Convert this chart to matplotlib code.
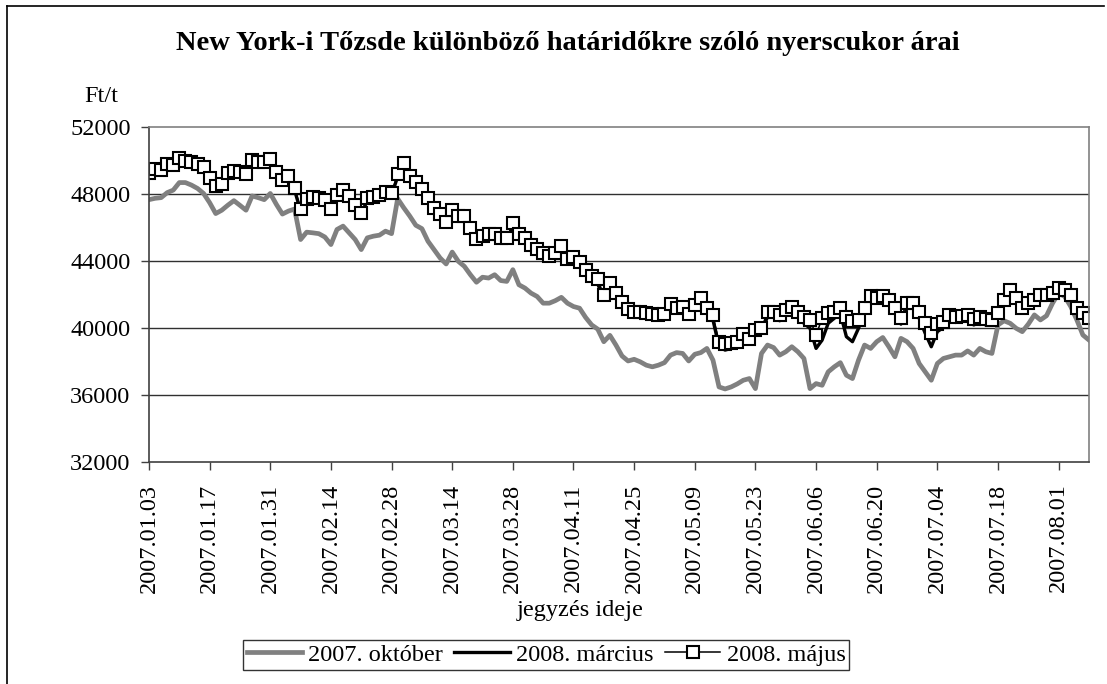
import matplotlib
matplotlib.use("Agg")
import matplotlib.pyplot as plt
from matplotlib.lines import Line2D

# tick labels (every 10th trading day)
date_labels = ["2007.01.03", "2007.01.17", "2007.01.31", "2007.02.14", "2007.02.28",
               "2007.03.14", "2007.03.28", "2007.04.11", "2007.04.25", "2007.05.09",
               "2007.05.23", "2007.06.06", "2007.06.20", "2007.07.04", "2007.07.18",
               "2007.08.01"]

# 2007. október
oktober = [
    47680, 47760, 47800, 48100, 48250, 48700, 48700, 48550, 48350, 48050,
    47500, 46850, 47050, 47350, 47620, 47340, 47050, 47900, 47800, 47680,
    48050, 47400, 46820, 47000, 47120, 45300, 45740, 45700, 45650, 45450,
    45000, 45900, 46100, 45700, 45300, 44700, 45400, 45500, 45560, 45800,
    45650, 47740, 47200, 46700, 46150, 45950, 45200, 44700, 44200, 43840,
    44550, 44000, 43700, 43200, 42750, 43050, 43000, 43200, 42850, 42800,
    43500, 42600, 42400, 42100, 41900, 41500, 41500, 41650, 41850, 41500,
    41300, 41200, 40650, 40200, 39950, 39200, 39580, 39000, 38350, 38050,
    38150, 38000, 37800, 37700, 37800, 37950, 38400, 38550, 38500, 38050,
    38450, 38550, 38800, 38100, 36500, 36380, 36500, 36680, 36900, 37000,
    36400, 38500, 39000, 38850, 38400, 38600, 38900, 38600, 38200, 36400,
    36700, 36600, 37400, 37700, 37950, 37200, 37000, 38100, 39000, 38800,
    39200, 39450, 38900, 38300, 39400, 39200, 38800, 37900, 37400, 36900,
    37900, 38200, 38300, 38400, 38400, 38650, 38400, 38800, 38600, 38500,
    40200, 40450, 40300, 40000, 39800, 40250, 40800, 40500, 40750, 41500,
    42100, 41900, 41300, 40500, 39600, 39300]

# 2008. március
marcius = [
    49150, 49350, 49300, 49650, 49600, 50000, 49850, 49800, 49650, 49500,
    48850, 48350, 48450, 49150, 49250, 49200, 49100, 49900, 49800, 49800,
    49950, 49200, 48700, 48950, 48250, 47000, 47550, 47700, 47600, 47550,
    47000, 47800, 48150, 47750, 47200, 46750, 47650, 47700, 47800, 48000,
    47950, 49050, 49700, 48950, 48600, 48150, 47650, 47050, 46650, 46200,
    46900, 46550, 46500, 45850, 45200, 45400, 45450, 45450, 45250, 45250,
    46050, 45400, 45150, 44800, 44500, 44300, 44100, 44300, 44700, 43950,
    44050, 43750, 43300, 42850, 42650, 41750, 42450, 41900, 41350, 40900,
    40700, 40650, 40600, 40550, 40500, 40600, 41150, 40950, 41000, 40550,
    41100, 41550, 40950, 40500, 38900, 38700, 38800, 38950, 39400, 39100,
    39600, 39750, 40700, 40700, 40450, 40750, 41000, 40700, 40300, 40000,
    38800, 39300, 40300, 40600, 40900, 39500, 39200, 40000, 40900, 41650,
    41500, 41650, 41400, 40900, 40250, 41200, 41250, 40600, 39700, 38900,
    39800, 40050, 40450, 40350, 40450, 40500, 40200, 40350, 40200, 40250,
    40650, 41450, 42050, 41550, 40950, 41250, 41450, 41750, 41800, 41900,
    42200, 42100, 41800, 41000, 40700, 40450]

# 2008. május
majus = [
    49280, 49500, 49450, 49800, 49750, 50150, 50000, 49950, 49800, 49650,
    49000, 48500, 48600, 49300, 49400, 49350, 49240, 50050, 49950, 49950,
    50080, 49340, 48840, 49100, 48400, 47140, 47700, 47840, 47750, 47680,
    47140, 47940, 48280, 47900, 47340, 46880, 47800, 47840, 47950, 48140,
    48080, 49200, 49880, 49100, 48740, 48300, 47800, 47200, 46800, 46340,
    47080, 46700, 46680, 46000, 45340, 45540, 45620, 45600, 45420, 45400,
    46280, 45600, 45380, 45000, 44720, 44500, 44320, 44500, 44920, 44120,
    44280, 43980, 43500, 43100, 42920, 41980, 42720, 42120, 41600, 41180,
    40980, 40980, 40900, 40840, 40780, 40850, 41440, 41200, 41280, 40840,
    41380, 41780, 41200, 40780, 39180, 39080, 39150, 39200, 39680, 39380,
    39880, 40000, 41000, 41000, 40800, 41100, 41300, 41000, 40700, 40500,
    39600, 40600, 40900, 41000, 41200, 40700, 40450, 40500, 41200, 41900,
    41800, 41900, 41700, 41200, 40600, 41540, 41540, 41000, 40300, 39700,
    40260, 40400, 40800, 40700, 40750, 40800, 40540, 40660, 40550, 40500,
    40900, 41700, 42300, 41800, 41200, 41500, 41700, 42000, 42000, 42100,
    42400, 42300, 42000, 41200, 40900, 40600]

y_ticks = [32000, 36000, 40000, 44000, 48000, 52000]

plt.rcParams['font.family'] = ['Liberation Serif', 'DejaVu Serif']

fig = plt.figure(figsize=(11.07, 6.84), dpi=100)
ax = fig.add_axes([0.1346, 0.3241, 0.8491, 0.4898])

x = list(range(len(majus)))
ax.plot(x, oktober, color='#808080', lw=3.4, solid_joinstyle='round', label='2007. október')
ax.plot(x, marcius, color='black', lw=2.4, solid_joinstyle='round', label='2008. március')
ax.plot(x, majus, color='black', lw=1.1, marker='s', markersize=8.5,
        markerfacecolor='white', markeredgecolor='black', markeredgewidth=1.5,
        label='2008. május')

ax.set_xlim(0, len(majus) - 1)
ax.set_ylim(32000, 52000)
ax.set_yticks(y_ticks)
ax.set_yticklabels([str(v) for v in y_ticks], fontsize=17.5)
ax.set_xticks(range(0, 10 * len(date_labels), 10))
ax.set_xticklabels(date_labels, rotation=90, fontsize=17.5)
ax.tick_params(axis='both', direction='out', length=5.8, width=1, color='#404040')
ax.tick_params(axis='x', pad=9.5)
ax.tick_params(axis='y', pad=7.5)

for v in y_ticks[1:-1]:
    ax.axhline(v, color='#303030', lw=1.0, zorder=0.5)

ax.spines['left'].set_color('#404040')
ax.spines['bottom'].set_color('#404040')
ax.spines['top'].set_color('#808080')
ax.spines['right'].set_color('#808080')
for s in ax.spines.values():
    s.set_linewidth(1.2)

fig.text(0.513, 0.937, "New York-i Tőzsde különböző határidőkre szóló nyerscukor árai",
         ha='center', va='center', fontsize=20.5, fontweight='bold')
fig.text(0.0917, 0.851, "Ft/t", ha='center', va='baseline', fontsize=17.5)
fig.text(0.524, 0.108, "jegyzés ideje", ha='center', va='center', fontsize=17.5)

leg = fig.legend(loc='center', bbox_to_anchor=(0.4932, 0.0424), ncol=3, fontsize=17.5,
                 frameon=True, fancybox=False, numpoints=1, handlelength=2.3,
                 handletextpad=0.25, columnspacing=0.45, borderpad=0.15,
                 borderaxespad=0)
leg.get_frame().set_edgecolor('black')
leg.get_frame().set_linewidth(1.0)

# outer chart border (top and left visible)
fig.add_artist(Line2D([7 / 1107, 1104 / 1107], [1 - 6 / 684, 1 - 6 / 684],
                      transform=fig.transFigure, color='black', lw=1.2))
fig.add_artist(Line2D([7 / 1107, 7 / 1107], [0, 1 - 6 / 684],
                      transform=fig.transFigure, color='black', lw=1.2))

fig.savefig("out.png", dpi=100)
